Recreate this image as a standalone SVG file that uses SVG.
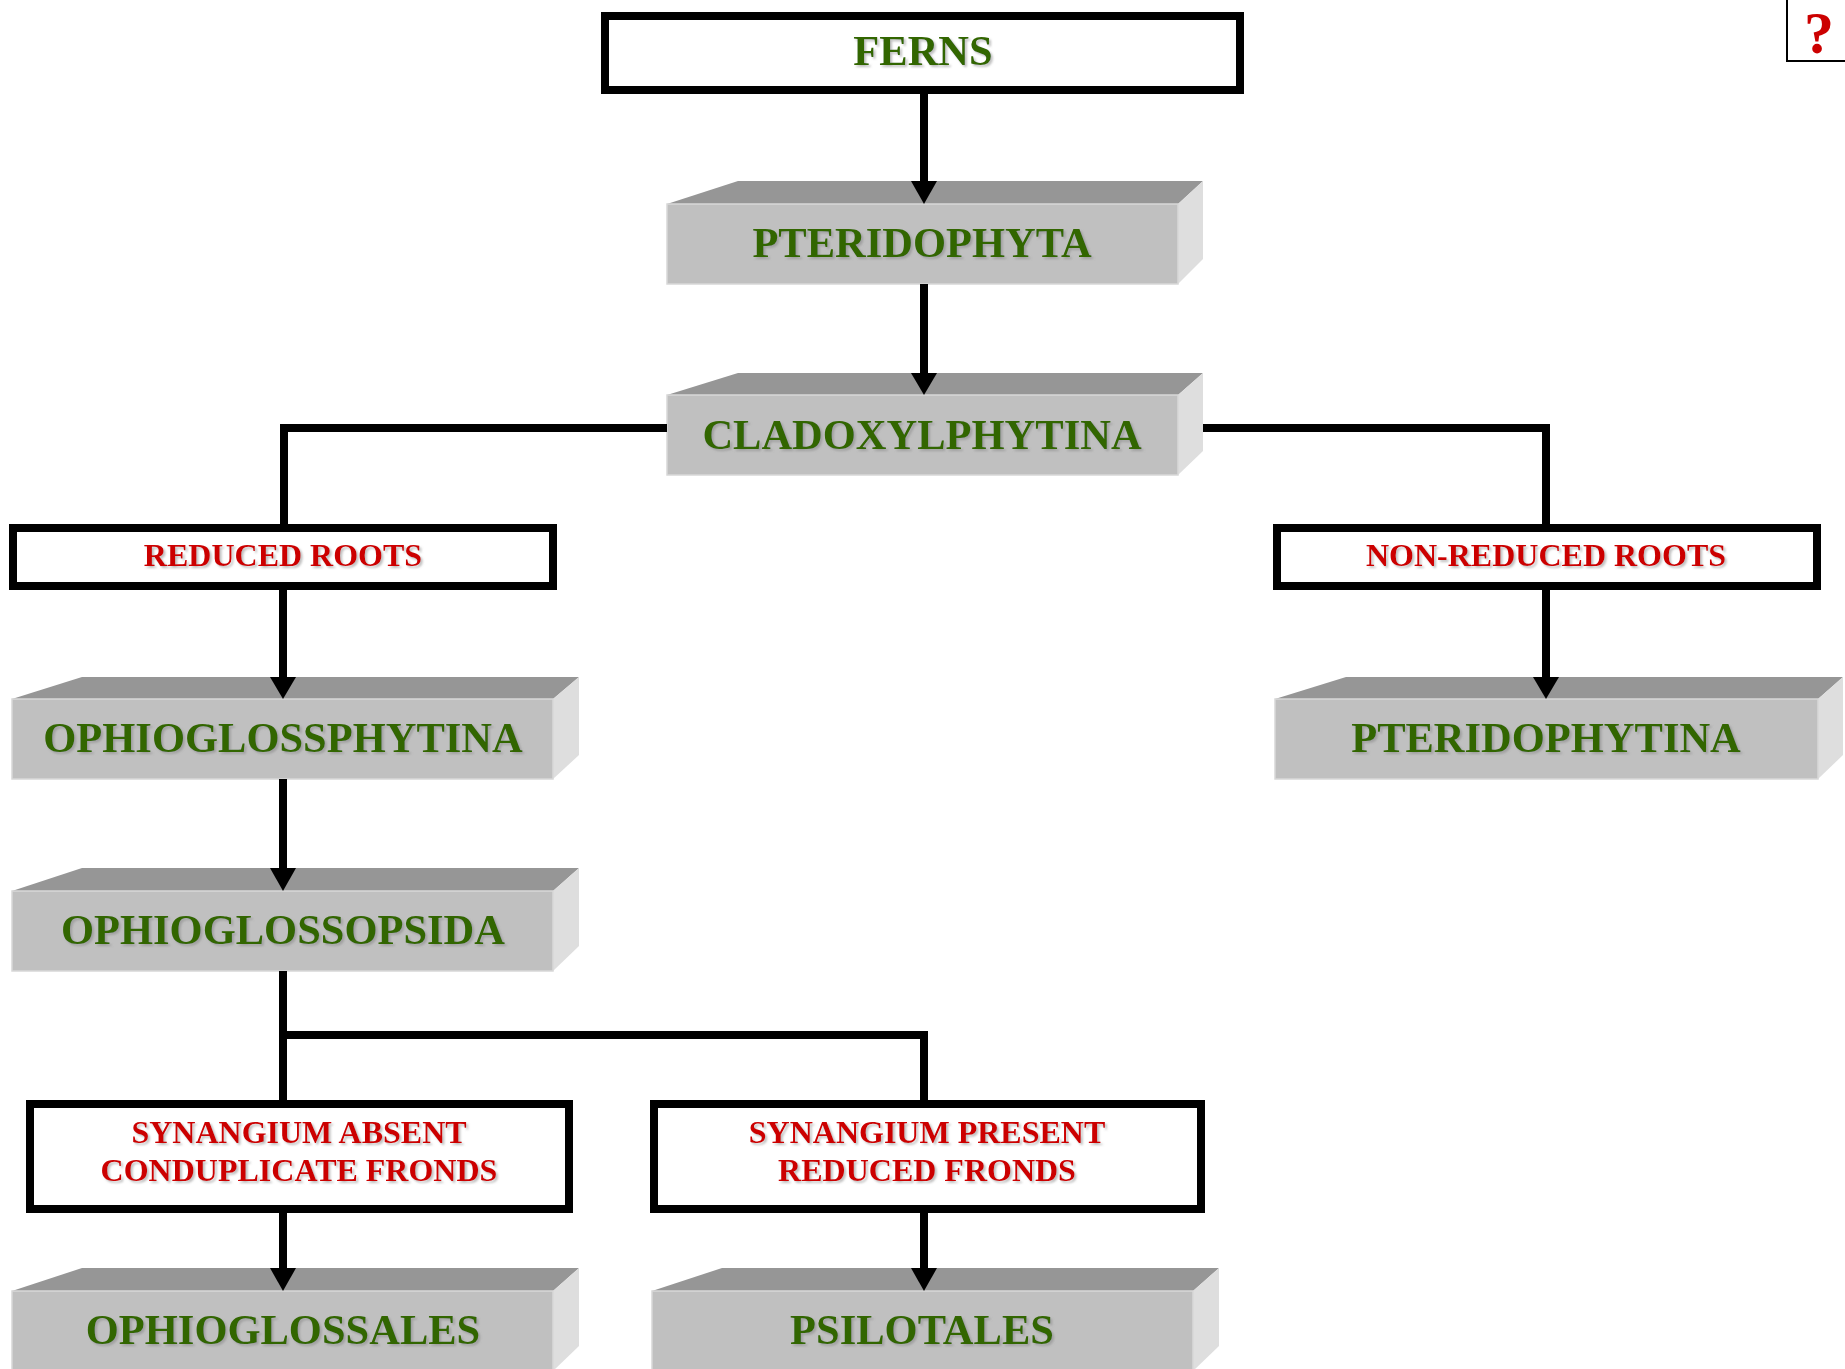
<svg xmlns="http://www.w3.org/2000/svg" width="1845" height="1369" viewBox="0 0 1845 1369">
<style>
.bg{fill:#ffffff}
.frame{fill:#ffffff;stroke:#000000;stroke-width:8}
.front{fill:#c0c0c0;stroke:#d8d8d8;stroke-width:1.5}
.top{fill:#969696}
.side{fill:#dedede}
.g{font-family:"Liberation Serif","Times New Roman",serif;font-weight:bold;font-size:42.5px;fill:#336600;text-anchor:middle;filter:url(#sh)}
.r{font-family:"Liberation Serif","Times New Roman",serif;font-weight:bold;font-size:32px;fill:#cc0000;text-anchor:middle;filter:url(#sh)}
.ln{fill:none;stroke:#000000;stroke-width:8}
.ah{fill:#000000}
</style>
<defs>
<filter id="sh" x="-5%" y="-20%" width="110%" height="140%">
<feDropShadow dx="2" dy="2" stdDeviation="1" flood-color="#808080" flood-opacity="0.5"/>
</filter>
</defs>
<rect class="bg" x="0" y="0" width="1845" height="1369"/>

<g id="ferns">
<rect class="frame" x="605" y="16" width="635" height="74"/>
<text class="g" x="923" y="65">FERNS</text>
</g>

<g id="pteridophyta">
<polygon class="top" points="667,204 738,181 1203,181 1178,204"/>
<polygon class="side" points="1178,204 1203,181 1203,259 1178,284"/>
<rect class="front" x="667" y="204" width="511" height="80"/>
<text class="g" x="922" y="257">PTERIDOPHYTA</text>
</g>

<g id="cladoxylphytina">
<polygon class="top" points="667,395 738,373 1203,373 1178,395"/>
<polygon class="side" points="1178,395 1203,373 1203,451 1178,475"/>
<rect class="front" x="667" y="395" width="511" height="80"/>
<text class="g" x="922" y="449">CLADOXYLPHYTINA</text>
</g>

<g id="reduced-roots">
<rect class="frame" x="13" y="528" width="540" height="58"/>
<text class="r" x="283" y="566">REDUCED ROOTS</text>
</g>

<g id="non-reduced-roots">
<rect class="frame" x="1277" y="528" width="540" height="58"/>
<text class="r" x="1546" y="566">NON-REDUCED ROOTS</text>
</g>

<g id="ophioglossphytina">
<polygon class="top" points="12,699 82,677 579,677 553,699"/>
<polygon class="side" points="553,699 579,677 579,755 553,779"/>
<rect class="front" x="12" y="699" width="541" height="80"/>
<text class="g" x="283" y="752">OPHIOGLOSSPHYTINA</text>
</g>

<g id="pteridophytina">
<polygon class="top" points="1275,699 1346,677 1843,677 1818,699"/>
<polygon class="side" points="1818,699 1843,677 1843,755 1818,779"/>
<rect class="front" x="1275" y="699" width="543" height="80"/>
<text class="g" x="1546" y="752">PTERIDOPHYTINA</text>
</g>

<g id="ophioglossopsida">
<polygon class="top" points="12,891 82,868 579,868 553,891"/>
<polygon class="side" points="553,891 579,868 579,946 553,971"/>
<rect class="front" x="12" y="891" width="541" height="80"/>
<text class="g" x="283" y="944">OPHIOGLOSSOPSIDA</text>
</g>

<g id="synangium-absent">
<rect class="frame" x="30" y="1104" width="539" height="105"/>
<text class="r" x="299" y="1143">SYNANGIUM ABSENT</text>
<text class="r" x="299" y="1181">CONDUPLICATE FRONDS</text>
</g>

<g id="synangium-present">
<rect class="frame" x="654" y="1104" width="547" height="105"/>
<text class="r" x="927" y="1143">SYNANGIUM PRESENT</text>
<text class="r" x="927" y="1181">REDUCED FRONDS</text>
</g>

<g id="ophioglossales">
<polygon class="top" points="12,1291 82,1268 579,1268 553,1291"/>
<polygon class="side" points="553,1291 579,1268 579,1346 553,1371"/>
<rect class="front" x="12" y="1291" width="541" height="80"/>
<text class="g" x="283" y="1344">OPHIOGLOSSALES</text>
</g>

<g id="psilotales">
<polygon class="top" points="652,1291 722,1268 1219,1268 1193,1291"/>
<polygon class="side" points="1193,1291 1219,1268 1219,1346 1193,1371"/>
<rect class="front" x="652" y="1291" width="541" height="80"/>
<text class="g" x="922" y="1344">PSILOTALES</text>
</g>

<g id="connectors">
<line class="ln" x1="924" y1="94" x2="924" y2="183"/>
<path class="ah" d="M911,181 L937,181 L924,204 Z"/>
<line class="ln" x1="924" y1="284" x2="924" y2="375"/>
<path class="ah" d="M911,373 L937,373 L924,395 Z"/>
<polyline class="ln" points="667,428 284,428 284,524"/>
<polyline class="ln" points="1203,428 1546,428 1546,524"/>
<line class="ln" x1="283" y1="590" x2="283" y2="679"/>
<path class="ah" d="M270,677 L296,677 L283,699 Z"/>
<line class="ln" x1="1546" y1="590" x2="1546" y2="679"/>
<path class="ah" d="M1533,677 L1559,677 L1546,699 Z"/>
<line class="ln" x1="283" y1="779" x2="283" y2="870"/>
<path class="ah" d="M270,868 L296,868 L283,891 Z"/>
<polyline class="ln" points="283,971 283,1100"/>
<polyline class="ln" points="283,1035 924,1035 924,1100"/>
<line class="ln" x1="283" y1="1213" x2="283" y2="1270"/>
<path class="ah" d="M270,1268 L296,1268 L283,1291 Z"/>
<line class="ln" x1="924" y1="1213" x2="924" y2="1270"/>
<path class="ah" d="M911,1268 L937,1268 L924,1291 Z"/>
</g>

<g id="help">
<polyline points="1787,0 1787,61 1845,61" fill="none" stroke="#000000" stroke-width="2"/>
<text x="1819" y="53" font-family="'Liberation Serif','Times New Roman',serif" font-weight="bold" font-size="60" fill="#cc0000" text-anchor="middle">?</text>
</g>
</svg>
